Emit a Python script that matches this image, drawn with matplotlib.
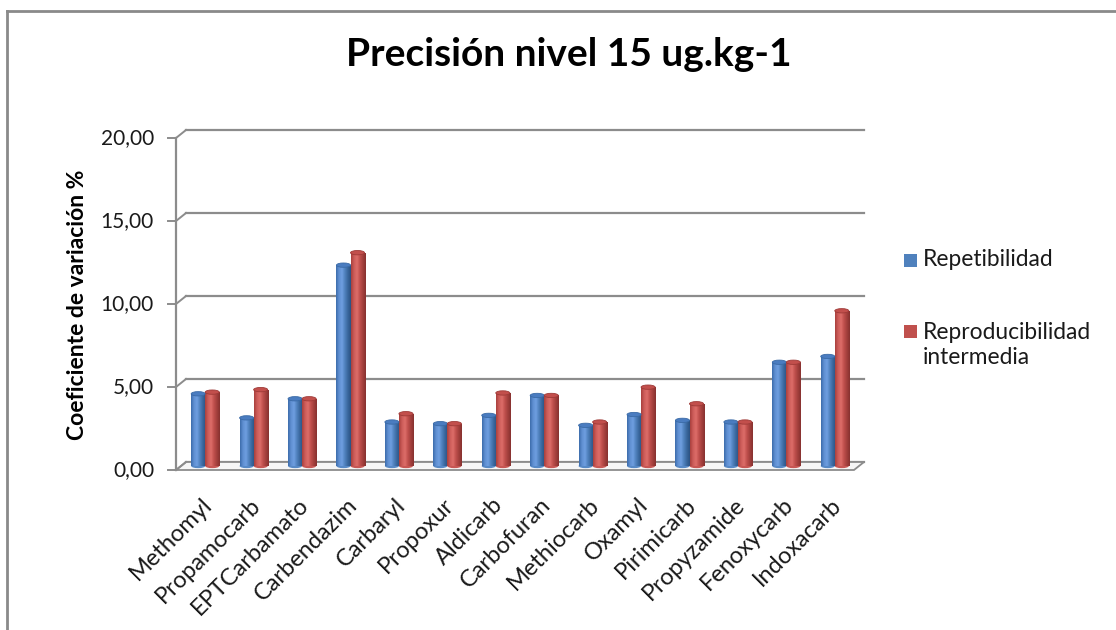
import matplotlib
matplotlib.use('Agg')
import matplotlib.pyplot as plt
import numpy as np
import matplotlib.transforms as mtransforms
from matplotlib.patches import Ellipse, Polygon, Rectangle
from matplotlib.colors import LinearSegmentedColormap
from matplotlib.lines import Line2D

categories = ['Methomyl', 'Propamocarb', 'EPTCarbamato', 'Carbendazim', 'Carbaryl',
              'Propoxur', 'Aldicarb', 'Carbofuran', 'Methiocarb', 'Oxamyl',
              'Pirimicarb', 'Propyzamide', 'Fenoxycarb', 'Indoxacarb']
repetibilidad = [4.35, 2.90, 4.05, 12.10, 2.65, 2.55, 3.05, 4.25, 2.45, 3.10, 2.75, 2.65, 6.25, 6.60]
reproducibilidad = [4.45, 4.60, 4.05, 12.85, 3.15, 2.55, 4.40, 4.25, 2.65, 4.75, 3.75, 2.65, 6.25, 9.35]
series_names = ['Repetibilidad', 'Reproducibilidad\nintermedia']
yticks = [0, 5, 10, 15, 20]
ytick_labels = ['0,00', '5,00', '10,00', '15,00', '20,00']
title = 'Precisión nivel 15 ug.kg-1'
ylabel = 'Coeficiente de variación %'

FONT = ['Lato', 'DejaVu Sans']
plt.rcParams['font.family'] = FONT

W, H = 1116, 630
fig = plt.figure(figsize=(W / 100, H / 100), dpi=100)
fig.patch.set_facecolor('white')

# plot area (mid-depth plane), pixel coords from top-left
px_l, px_r, px_bottom, px_top = 181, 859, 466, 134
ax = fig.add_axes([px_l / W, (H - px_bottom) / H, (px_r - px_l) / W, (px_bottom - px_top) / H])
ax.axis('off')
xmin, xmax = -0.5, len(categories) - 0.5
ax.set_xlim(xmin, xmax)
ax.set_ylim(0, 20)

BACK = (5, 4)
FRONT = (-5, -4)
back = ax.transData + mtransforms.Affine2D().translate(*BACK)
front = ax.transData + mtransforms.Affine2D().translate(*FRONT)
grid_c = '#8c8c8c'

# back wall gridlines
for v in yticks:
    ax.add_line(Line2D([xmin, xmax], [v, v], transform=back, color=grid_c, lw=1.6, zorder=1,
                       clip_on=False))

def disp(xv, yv, off):
    p = ax.transData.transform((xv, yv))
    return (p[0] + off[0], p[1] + off[1])

# floor
floor = Polygon([disp(xmin, 0, FRONT), disp(xmax, 0, FRONT), disp(xmax, 0, BACK), disp(xmin, 0, BACK)],
                closed=True, transform=mtransforms.IdentityTransform(), facecolor='#f6f6f6',
                edgecolor=grid_c, lw=1.3, zorder=1, clip_on=False)
ax.add_artist(floor)

# side-wall diagonals + front axis with ticks
ident = mtransforms.IdentityTransform()
for v in yticks:
    a = disp(xmin, v, FRONT)
    b = disp(xmin, v, BACK)
    ax.add_artist(Line2D([a[0], b[0]], [a[1], b[1]], transform=ident, color=grid_c, lw=1.4,
                         clip_on=False, zorder=1))
    ax.add_artist(Line2D([a[0] - 8, a[0]], [a[1], a[1]], transform=ident, color=grid_c, lw=1.4,
                         clip_on=False, zorder=1))
a0 = disp(xmin, 0, FRONT)
a1 = disp(xmin, 20, FRONT)
ax.add_artist(Line2D([a0[0], a1[0]], [a0[1], a1[1]], transform=ident, color=grid_c, lw=1.6,
                     clip_on=False, zorder=1))

# bars as shaded cylinders
x = np.arange(len(categories))
bw = 0.29
blue_cm = LinearSegmentedColormap.from_list('b', ['#3d6dab', '#5f8fd2', '#6f9fe0', '#4f81bd', '#3a679d', '#2b5283'])
red_cm = LinearSegmentedColormap.from_list('r', ['#a8403d', '#cd5c59', '#dd6d69', '#c0504d', '#a33f3c', '#873230'])
grad = np.linspace(0, 1, 64).reshape(1, -1)

def draw_series(vals, offset, base, cmap, top_c, edge_c):
    bars = ax.bar(x + offset, vals, width=bw, color=base, zorder=3, linewidth=0)
    for p in bars.patches:
        x0, w, h = p.get_x(), p.get_width(), p.get_height()
        cx = x0 + w / 2
        eh = 0.26
        ax.add_patch(Ellipse((cx, 0), w, eh, facecolor=cmap(0.55), edgecolor='none', zorder=2.9,
                             clip_on=False))
        im = ax.imshow(grad, cmap=cmap, extent=[x0, x0 + w, 0, h], aspect='auto', zorder=3.1,
                       interpolation='bilinear')
        im.set_clip_path(p)
        ax.add_patch(Ellipse((cx, h), w, eh, facecolor=top_c, edgecolor=edge_c, lw=0.6, zorder=3.3))
    return bars

b1 = draw_series(repetibilidad, -bw / 2, '#4f81bd', blue_cm, '#4a7cc0', '#3a6aa6')
b2 = draw_series(reproducibilidad, bw / 2, '#c0504d', red_cm, '#c24f4c', '#9e3a37')
ax.set_xlim(xmin, xmax)
ax.set_ylim(0, 20)

# y tick labels
ytrans = mtransforms.offset_copy(ax.transData, fig=fig, x=FRONT[0] - 22, y=FRONT[1], units='dots')
for v, lab in zip(yticks, ytick_labels):
    ax.text(xmin, v, lab, transform=ytrans, ha='right', va='center', fontsize=15, color='#1a1a1a',
            clip_on=False)

# category labels
xtrans = mtransforms.offset_copy(ax.transData, fig=fig, x=-4, y=-28, units='dots')
for i, lab in enumerate(categories):
    ax.text(i, 0, lab, transform=xtrans, rotation=45, rotation_mode='anchor', ha='right', va='top',
            fontsize=17, color='#1a1a1a', clip_on=False)

# title and y label
fig.text(569 / W, 1 - 55 / H, title, ha='center', va='center', fontsize=28, fontweight='bold', color='black')
fig.text(78 / W, 1 - 305 / H, ylabel, ha='center', va='center', rotation=90, fontsize=16.5,
         fontweight='bold', color='black')

# legend
fig.patches.append(Rectangle((904, H - 260 - 6.5), 13, 13, transform=ident, facecolor='#4f81bd',
                             edgecolor='none'))
fig.text(923 / W, 1 - 260 / H, series_names[0], ha='left', va='center', fontsize=16.4, color='#1a1a1a')
fig.patches.append(Rectangle((904, H - 331 - 6.5), 13, 13, transform=ident, facecolor='#c0504d',
                             edgecolor='none'))
fig.text(923 / W, 1 - 345 / H, series_names[1], ha='left', va='center', fontsize=16.4, color='#1a1a1a',
         linespacing=1.25)

# chart border (top and left visible)
fig.lines.append(Line2D([7, W], [H - 11, H - 11], transform=ident, color='#8a8a8a', lw=2))
fig.lines.append(Line2D([7, 7], [0, H - 11], transform=ident, color='#8a8a8a', lw=2))

fig.savefig('out.png', dpi=100, facecolor='white')
